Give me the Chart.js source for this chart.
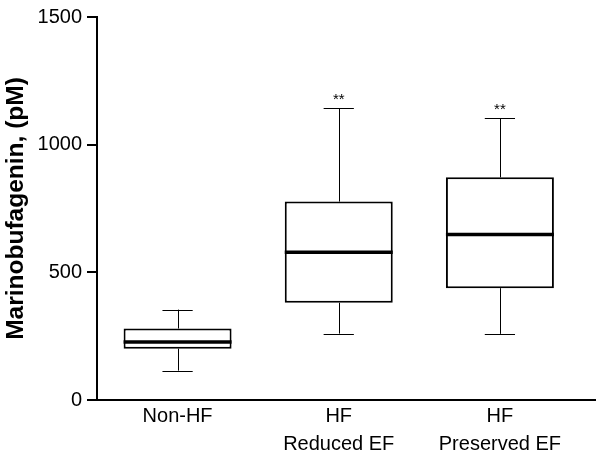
<!DOCTYPE html>
<html>
<head>
<meta charset="utf-8">
<script src="https://cdn.jsdelivr.net/npm/chart.js@4/dist/chart.umd.min.js"></script>
<style>
  html, body { margin: 0; padding: 0; background: #fff; }
  #wrap { width: 600px; height: 453px; }
</style>
</head>
<body>
<div id="wrap"><canvas id="boxChart"></canvas></div>
<script>
'use strict';

// Groups and box statistics (pM)
const groups = [['Non-HF'], ['HF', 'Reduced EF'], ['HF', 'Preserved EF']];
const whiskerMin = [115, 260, 259];
const quartile1 = [201, 381, 438];
const medians = [227, 579, 648];
const quartile3 = [280, 777, 872];
const whiskerMax = [354, 1143, 1104];
const significance = ['', '**', '**'];
const yTicks = [0, 500, 1000, 1500];

const FONT = '"Liberation Sans", Arial, Helvetica, sans-serif';

// Whiskers, caps, medians and asterisks drawn over the floating-bar boxes
const boxExtras = {
  id: 'boxExtras',
  afterDatasetsDraw(chart) {
    const ctx = chart.ctx;
    const y = chart.scales.y;
    const meta = chart.getDatasetMeta(0);
    ctx.save();
    ctx.strokeStyle = '#000';
    meta.data.forEach((bar, i) => {
      const cx = bar.x;
      const half = bar.width / 2;
      const capHalf = bar.width * 0.14;
      const yMin = y.getPixelForValue(whiskerMin[i]);
      const yQ1 = y.getPixelForValue(quartile1[i]);
      const yMed = y.getPixelForValue(medians[i]);
      const yQ3 = y.getPixelForValue(quartile3[i]);
      const yMax = y.getPixelForValue(whiskerMax[i]);

      ctx.lineWidth = 1;
      ctx.beginPath();
      ctx.moveTo(Math.round(cx) + 0.5, yQ3);
      ctx.lineTo(Math.round(cx) + 0.5, yMax);
      ctx.moveTo(Math.round(cx) + 0.5, yQ1);
      ctx.lineTo(Math.round(cx) + 0.5, yMin);
      ctx.moveTo(cx - capHalf, Math.round(yMax) + 0.5);
      ctx.lineTo(cx + capHalf, Math.round(yMax) + 0.5);
      ctx.moveTo(cx - capHalf, Math.round(yMin) + 0.5);
      ctx.lineTo(cx + capHalf, Math.round(yMin) + 0.5);
      ctx.stroke();

      ctx.lineWidth = 3.5;
      ctx.beginPath();
      ctx.moveTo(cx - half, yMed);
      ctx.lineTo(cx + half, yMed);
      ctx.stroke();

      if (significance[i]) {
        ctx.fillStyle = '#000';
        ctx.font = '15px ' + FONT;
        ctx.textAlign = 'center';
        ctx.textBaseline = 'bottom';
        ctx.fillText(significance[i], cx, yMax - 1);
      }
    });
    ctx.restore();
  }
};

const ctx = document.getElementById('boxChart').getContext('2d');
new Chart(ctx, {
  type: 'bar',
  data: {
    datasets: [{
      data: groups.map((g, i) => ({ x: i, y: [quartile1[i], quartile3[i]] })),
      backgroundColor: '#fff',
      borderColor: '#000',
      borderWidth: 2,
      borderSkipped: false,
      barPercentage: 0.67,
      categoryPercentage: 1
    }]
  },
  options: {
    responsive: true,
    maintainAspectRatio: false,
    animation: false,
    layout: { padding: { top: 14, right: 5, left: 0, bottom: 0 } },
    plugins: { legend: { display: false }, tooltip: { enabled: false } },
    scales: {
      x: {
        type: 'linear',
        offset: false,
        min: -0.5,
        max: 2.59,
        afterBuildTicks: scale => { scale.ticks = groups.map((g, i) => ({ value: i })); },
        afterFit: scale => { scale.height = 53; },
        grid: { display: true, drawOnChartArea: false, drawTicks: false },
        border: { color: '#000', width: 2 },
        ticks: {
          color: '#000',
          padding: 2,
          maxRotation: 0,
          font: { family: FONT, size: 20, lineHeight: 1.43 },
          callback: v => groups[v]
        }
      },
      y: {
        min: 0,
        max: 1500,
        afterBuildTicks: scale => { scale.ticks = yTicks.map(v => ({ value: v })); },
        afterFit: scale => { scale.width = 97; },
        grid: { drawOnChartArea: false, drawTicks: true, tickLength: 10, color: '#000', lineWidth: 2 },
        border: { color: '#000', width: 2 },
        title: {
          display: true,
          text: 'Marinobufagenin, (pM)',
          color: '#000',
          padding: { top: 2, bottom: 0 },
          font: { family: FONT, size: 24.5, weight: 'bold' }
        },
        ticks: {
          color: '#000',
          padding: 5,
          font: { family: FONT, size: 20 },
          callback: v => String(v)
        }
      }
    }
  },
  plugins: [boxExtras]
});
</script>
</body>
</html>
